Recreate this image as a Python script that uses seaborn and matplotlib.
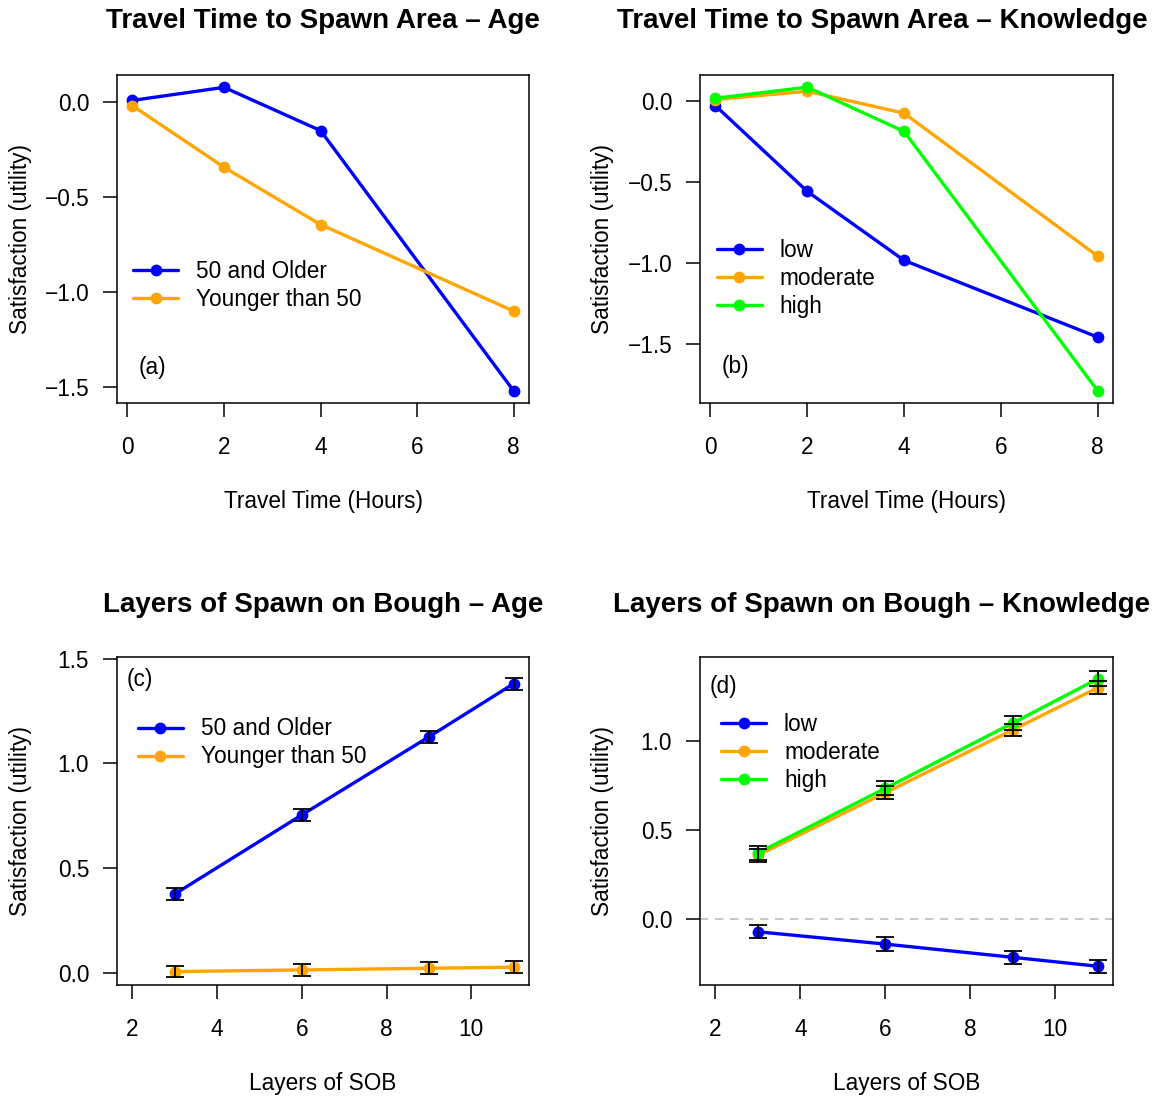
import numpy as np
import pandas as pd
import matplotlib
matplotlib.use("Agg")
import matplotlib.pyplot as plt
from matplotlib.lines import Line2D
import seaborn as sns

# ---------------- data ----------------
travel_hours = [0.1, 2, 4, 8]
age_groups = ["50 and Older", "Younger than 50"]
know_groups = ["low", "moderate", "high"]

tt_age_old = [0.01, 0.079, -0.149, -1.521]
tt_age_young = [-0.017, -0.342, -0.644, -1.100]

tt_know_low = [-0.031, -0.559, -0.983, -1.455]
tt_know_mod = [0.006, 0.057, -0.078, -0.957]
tt_know_high = [0.014, 0.082, -0.190, -1.785]

sob_layers = [3, 6, 9, 11]
sob_age_old = [0.376, 0.754, 1.127, 1.381]
sob_age_old_err = [0.028, 0.029, 0.029, 0.029]
sob_age_young = [0.006, 0.014, 0.022, 0.027]
sob_age_young_err = [0.028, 0.028, 0.028, 0.028]

sob_know_low = [-0.070, -0.139, -0.213, -0.263]
sob_know_low_err = [0.037, 0.037, 0.037, 0.037]
sob_know_mod = [0.358, 0.708, 1.060, 1.296]
sob_know_mod_err = [0.035, 0.036, 0.035, 0.036]
sob_know_high = [0.371, 0.733, 1.098, 1.346]
sob_know_high_err = [0.037, 0.040, 0.041, 0.042]

titles = ["Travel Time to Spawn Area \u2013 Age",
          "Travel Time to Spawn Area \u2013 Knowledge",
          "Layers of Spawn on Bough \u2013 Age",
          "Layers of Spawn on Bough \u2013 Knowledge"]
panel_tags = ["(a)", "(b)", "(c)", "(d)"]
xlabels = ["Travel Time (Hours)", "Travel Time (Hours)", "Layers of SOB", "Layers of SOB"]
ylabel = "Satisfaction (utility)"

# ---------------- style ----------------
sns.set_theme(style="white")
plt.rcParams['font.family'] = ['Liberation Sans', 'DejaVu Sans']
plt.rcParams['axes.unicode_minus'] = True
for k in ['text.color', 'axes.labelcolor', 'xtick.color', 'ytick.color', 'axes.edgecolor']:
    plt.rcParams[k] = 'black'

BLUE, ORANGE, GREEN = "#0000FF", "#FFA500", "#00FF00"
age_pal = {age_groups[0]: BLUE, age_groups[1]: ORANGE}
know_pal = {know_groups[0]: BLUE, know_groups[1]: ORANGE, know_groups[2]: GREEN}

FS = 16.3
LW = 2.4
MS = 8.5

W, H = 1156, 1097
fig = plt.figure(figsize=(W / 100, H / 100), dpi=100)

def rect(l, t, r, b):
    return [l / W, 1 - b / H, (r - l) / W, (b - t) / H]

axes = [fig.add_axes(rect(117, 75, 529, 403)),
        fig.add_axes(rect(700, 75, 1113, 403)),
        fig.add_axes(rect(117, 657, 529, 985)),
        fig.add_axes(rect(700, 657, 1113, 985))]

def long_df(x, series, names):
    rows = []
    for name, ys in zip(names, series):
        for xi, yi in zip(x, ys):
            rows.append((xi, yi, name))
    return pd.DataFrame(rows, columns=["x", "y", "group"])

datasets = [
    (travel_hours, [tt_age_old, tt_age_young], age_groups, age_pal, None),
    (travel_hours, [tt_know_low, tt_know_mod, tt_know_high], know_groups, know_pal, None),
    (sob_layers, [sob_age_old, sob_age_young], age_groups, age_pal,
     [sob_age_old_err, sob_age_young_err]),
    (sob_layers, [sob_know_low, sob_know_mod, sob_know_high], know_groups, know_pal,
     [sob_know_low_err, sob_know_mod_err, sob_know_high_err]),
]

xlims = [(-0.216, 8.316), (-0.216, 8.316), (1.64, 11.36), (1.64, 11.36)]
ylims = [(-1.584, 0.144), (-1.86, 0.157), (-0.058, 1.508), (-0.368, 1.468)]
xticks = [[0, 2, 4, 6, 8], [0, 2, 4, 6, 8], [2, 4, 6, 8, 10], [2, 4, 6, 8, 10]]
yticks = [[0, -0.5, -1.0, -1.5], [0, -0.5, -1.0, -1.5], [0, 0.5, 1.0, 1.5], [0, 0.5, 1.0]]
tag_pos = [(0.085, 0.107), (0.085, 0.11), (0.056, 0.93), (0.056, 0.909)]
leg_pos = [(0.039, 0.357), (0.040, 0.380), (0.050, 0.738), (0.051, 0.709)]
title_x = [323, 882, 323, 882]
title_base = [28, 28, 612, 612]

for i, ax in enumerate(axes):
    x, series, names, pal, errs = datasets[i]
    df = long_df(x, series, names)
    if i == 3:
        ax.axhline(0, color="#BEBEBE", lw=1.2, ls=(0, (5, 4)), zorder=1)
    sns.lineplot(data=df, x="x", y="y", hue="group", hue_order=names, palette=pal,
                 marker="o", markersize=MS, markeredgewidth=0, linewidth=LW,
                 legend=False, ax=ax, zorder=3)
    if errs is not None:
        for ys, es in zip(series, errs):
            ax.errorbar(x, ys, yerr=es, fmt="none", ecolor="black", elinewidth=1.3,
                        capsize=6.5, capthick=1.3, zorder=5)
    ax.set_xlim(*xlims[i])
    ax.set_ylim(*ylims[i])
    ax.set_xticks(xticks[i])
    ax.set_yticks(yticks[i])
    ax.set_xticklabels([str(v) for v in xticks[i]])
    ax.set_yticklabels([f"{v:.1f}".replace("-", "\u2212") for v in yticks[i]])
    ax.tick_params(axis="both", direction="out", length=10, width=1.1, colors="black",
                   labelsize=FS, left=True, bottom=True)
    ax.tick_params(axis="x", pad=14)
    ax.tick_params(axis="y", pad=10)
    for s in ax.spines.values():
        s.set_visible(True)
        s.set_color("black")
        s.set_linewidth(1.1)
    ax.set_xlabel(xlabels[i], fontsize=FS, color="black")
    ax.set_ylabel(ylabel, fontsize=FS, color="black")
    ax.xaxis.set_label_coords(0.5, -0.299)
    ax.xaxis.label.set_va("center")
    ax.yaxis.set_label_coords(-0.235, 0.5)
    ax.yaxis.label.set_va("center")
    ax.text(tag_pos[i][0], tag_pos[i][1], panel_tags[i], transform=ax.transAxes,
            fontsize=FS, ha="center", va="center", color="black")
    handles = [Line2D([], [], color=pal[n], lw=LW, marker="o", markersize=MS,
                      markeredgewidth=0) for n in names]
    leg = ax.legend(handles, names, loc="center left", bbox_to_anchor=leg_pos[i],
                    frameon=False, fontsize=FS, handlelength=2.0, handletextpad=0.78,
                    labelspacing=0.22, borderpad=0, borderaxespad=0)
    for t in leg.get_texts():
        t.set_color("black")
    ax.grid(False)
    fig.text(title_x[i] / W, 1 - title_base[i] / H, titles[i], ha="center", va="baseline",
             fontsize=20, fontweight="bold", color="black")

fig.savefig("out.png", dpi=100, facecolor="white")
